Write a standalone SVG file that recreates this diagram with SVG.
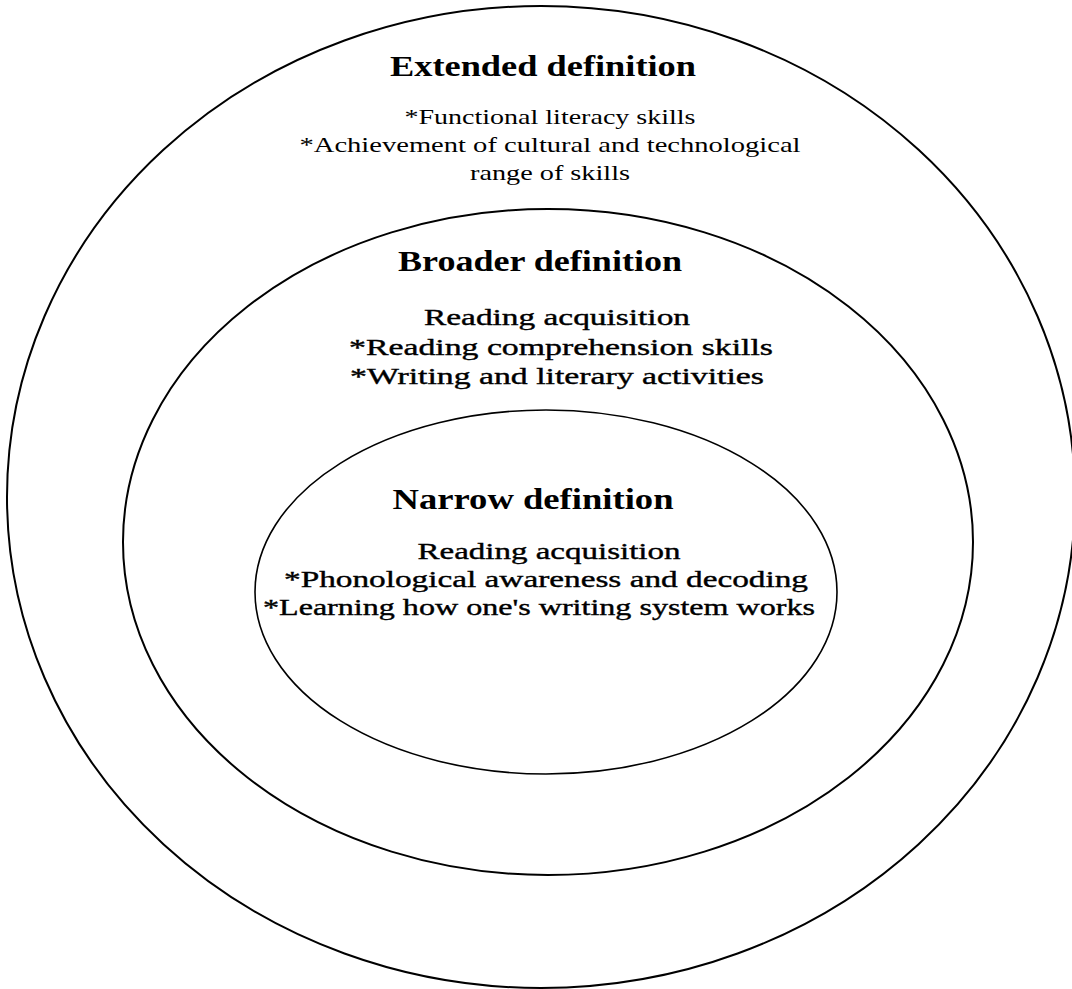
<svg xmlns="http://www.w3.org/2000/svg" width="1072" height="989" viewBox="0 0 1072 989">
<style>
.ring{fill:none;stroke:#000;stroke-width:2}
.h{font-family:"Liberation Serif","Times New Roman",serif;font-weight:bold;font-size:30px;fill:#000;text-anchor:middle}
.t{font-family:"Liberation Serif","Times New Roman",serif;font-size:22px;fill:#000;text-anchor:middle}
.t2{font-family:"Liberation Serif","Times New Roman",serif;font-size:24px;fill:#000;stroke:#000;stroke-width:0.4;text-anchor:middle}
</style>
<rect width="1072" height="989" fill="#fff"/>
<g id="extended">
<ellipse class="ring" cx="541" cy="497" rx="534" ry="491"/>
<text class="h" x="543" y="76" textLength="306" lengthAdjust="spacingAndGlyphs">Extended definition</text>
<text class="t" x="550" y="124" textLength="291" lengthAdjust="spacingAndGlyphs">*Functional literacy skills</text>
<text class="t" x="550" y="152" textLength="501" lengthAdjust="spacingAndGlyphs">*Achievement of cultural and technological</text>
<text class="t" x="550" y="180" textLength="160" lengthAdjust="spacingAndGlyphs">range of skills</text>
</g>
<g id="broader">
<ellipse class="ring" cx="548" cy="542" rx="425" ry="333"/>
<text class="h" x="540" y="271" textLength="284" lengthAdjust="spacingAndGlyphs">Broader definition</text>
<text class="t2" x="557" y="325" textLength="266" lengthAdjust="spacingAndGlyphs">Reading acquisition</text>
<text class="t2" x="561" y="355" textLength="424" lengthAdjust="spacingAndGlyphs">*Reading comprehension skills</text>
<text class="t2" x="557" y="384" textLength="414" lengthAdjust="spacingAndGlyphs">*Writing and literary activities</text>
</g>
<g id="narrow">
<ellipse class="ring" cx="546" cy="592" rx="291" ry="182" style="stroke-width:1.6"/>
<text class="h" x="533" y="509" textLength="281" lengthAdjust="spacingAndGlyphs">Narrow definition</text>
<text class="t2" x="549" y="559" textLength="263" lengthAdjust="spacingAndGlyphs">Reading acquisition</text>
<text class="t2" x="546" y="587" textLength="524" lengthAdjust="spacingAndGlyphs">*Phonological awareness and decoding</text>
<text class="t2" x="539" y="615" textLength="552" lengthAdjust="spacingAndGlyphs">*Learning how one's writing system works</text>
</g>
<g id="connectors"/>
</svg>
